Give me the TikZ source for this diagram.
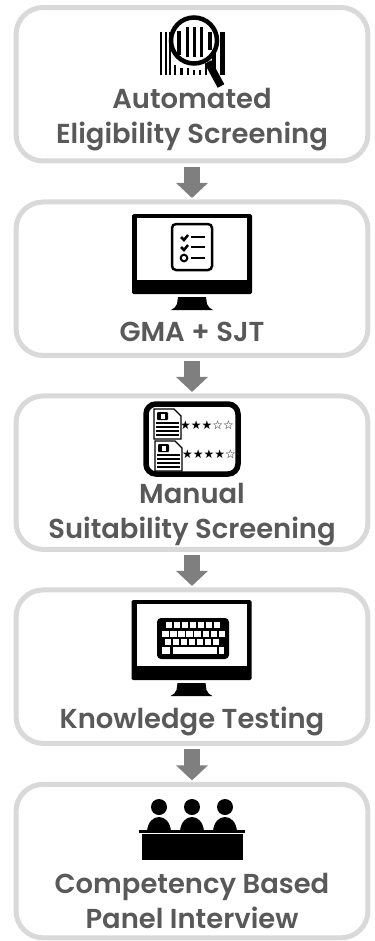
\documentclass[tikz,border=0pt]{standalone}
\usepackage{fontspec}
\setmainfont{Poppins}[BoldFont={Poppins SemiBold}]
\newfontfamily\starfont{DejaVu Sans}
\usetikzlibrary{positioning, arrows.meta}
\definecolor{boxgray}{HTML}{D9D9D9}
\definecolor{arrowgray}{HTML}{7F7F7F}
\definecolor{textgray}{HTML}{595959}
\tikzset{
    stagebox/.style={draw=boxgray, line width=0.1cm, rounded corners=0.54cm, minimum width=7.04cm, minimum height=3.07cm, outer sep=0pt, inner sep=0pt},
    stagetext/.style={text=textgray, font=\fontsize{15.6pt}{20pt}\selectfont\bfseries, align=center, inner sep=0pt},
    flow/.style={arrowgray, line width=0.32cm, -{Triangle[length=0.3cm, width=0.62cm]}, shorten >=0.08cm, shorten <=0.12cm},
    starrow/.style={font=\starfont\fontsize{6.8pt}{7pt}\selectfont, inner sep=0pt},
    pics/monitor/.style={code={
        % frame and screen, centred on the top edge
        \fill[rounded corners=0.03cm] (-60,0) rectangle (60,80);
        \fill[white] (-55,4) rectangle (55,66);
        \fill (-14,83) -- (14,83) -- (15,90) .. controls (16,93) and (18,94.5) .. (21,96)
            -- (-21,96) .. controls (-18,94.5) and (-16,93) .. (-15,90) -- cycle;
    }},
}
\begin{document}
\begin{tikzpicture}[x=0.02cm, y=-0.02cm]
    \useasboundingbox (0,0) rectangle (375,941);
    \node[stagebox] (box1) at (192,84.25) {};
    \node[stagebox, below=0.82cm of box1] (box2) {};
    \node[stagebox, below=0.81cm of box2] (box3) {};
    \node[stagebox, below=0.81cm of box3] (box4) {};
    \node[stagebox, below=0.82cm of box4] (box5) {};

    % Arrows
    \draw[flow] (box1.south) -- (box2.north);
    \draw[flow] (box2.south) -- (box3.north);
    \draw[flow] (box3.south) -- (box4.north);
    \draw[flow] (box4.south) -- (box5.north);

    % Labels
    \node[stagetext] (label1) at (192,120) {Automated\\Eligibility Screening};
    \node[stagetext] (label2) at (192,332) {GMA + SJT};
    \node[stagetext] (label3) at (192,515) {Manual\\Suitability Screening};
    \node[stagetext] (label4) at (192,721) {Knowledge Testing};
    \node[stagetext] (label5) at (192,901) {Competency Based\\Panel Interview};

    % Barcode and magnifier
    \foreach \xa/\xb/\ya in {160/162/32, 165/167/32, 169/171/32, 174/176/65, 180/182.5/68, 187/189/68, 193/195/70, 199/201/70, 205/207/65, 212/216/32, 220/225/32}
        \fill (\xa,\ya) rectangle (\xb,75);
    \fill[white] (194,40.5) circle (23);
    \foreach \xa/\xb/\ya/\yb in {177/181/31/55, 186/189/27/57, 193/196/27/57, 200/203/27/57, 208/212/32/50}
        \fill (\xa,\ya) rectangle (\xb,\yb);
    \draw[line width=0.09cm] (194,40.5) circle (23);
    \draw[line width=0.15cm] (208,62) -- (221,86);

    % Checklist on a monitor
    \pic at (192,214) {monitor};
    \draw[line width=0.05cm, rounded corners=0.08cm] (172,224) rectangle (212,270);
    \draw[line width=0.05cm] (181,237) -- (184,240) -- (188,235);
    \draw[line width=0.05cm] (181,247) -- (184,250) -- (188,245);
    \draw[line width=0.04cm] (184,258) circle (3.3);
    \foreach \ya in {237,247,258}
        \draw[line width=0.05cm] (191,\ya) -- (205,\ya);

    % Rated documents
    \draw[line width=0.11cm, rounded corners=0.2cm] (146,404) rectangle (238,474);
    \foreach \xa/\ya in {154/409, 155/441} {
        \draw[line width=0.025cm] (\xa,\ya) -- (\xa+20,\ya) -- (\xa+27,\ya+7) -- (\xa+27,\ya+30) -- (\xa,\ya+30) -- cycle;
        \fill[rounded corners=0.02cm] (\xa+3,\ya+3) rectangle (\xa+14,\ya+11);
        \fill[white] (\xa+6.5,\ya+4.5) rectangle (\xa+10.5,\ya+9.5);
        \foreach \yb in {14,18,22,26}
            \draw[line width=0.025cm] (\xa+2,\ya+\yb) -- (\xa+25,\ya+\yb);
    }
    \node[starrow] (stars1) at (207,425) {★★★☆☆};
    \node[starrow] (stars2) at (209,454) {★★★★☆};

    % Keyboard on a monitor
    \pic at (191.5,600) {monitor};
    \fill[rounded corners=0.08cm] (157,618) rectangle (229,659);
    \foreach \i in {0,...,6}
        \fill[white] (166+8*\i,622) rectangle (172+8*\i,628);
    \foreach \i in {0,...,7}
        \fill[white] (162+8.1*\i,630.5) rectangle (168.5+8.1*\i,637);
    \foreach \i in {0,...,6}
        \fill[white] (165+8*\i,639) rectangle (171+8*\i,645);
    \fill[white] (162,647) rectangle (170,653.5);
    \fill[white] (173,647) rectangle (217,653.5);
    \fill[white] (218.5,647) rectangle (224,653.5);

    % Panel of three behind a table
    \foreach \xa in {159,192,225} {
        \fill (\xa,807) circle (8);
        \fill (\xa-12,831) .. controls (\xa-11,822) and (\xa-6,817) .. (\xa,817)
            .. controls (\xa+6,817) and (\xa+11,822) .. (\xa+12,831) -- cycle;
    }
    \fill (139,830) rectangle (245,833);
    \fill (142,834) rectangle (243,860);
\end{tikzpicture}
\end{document}
